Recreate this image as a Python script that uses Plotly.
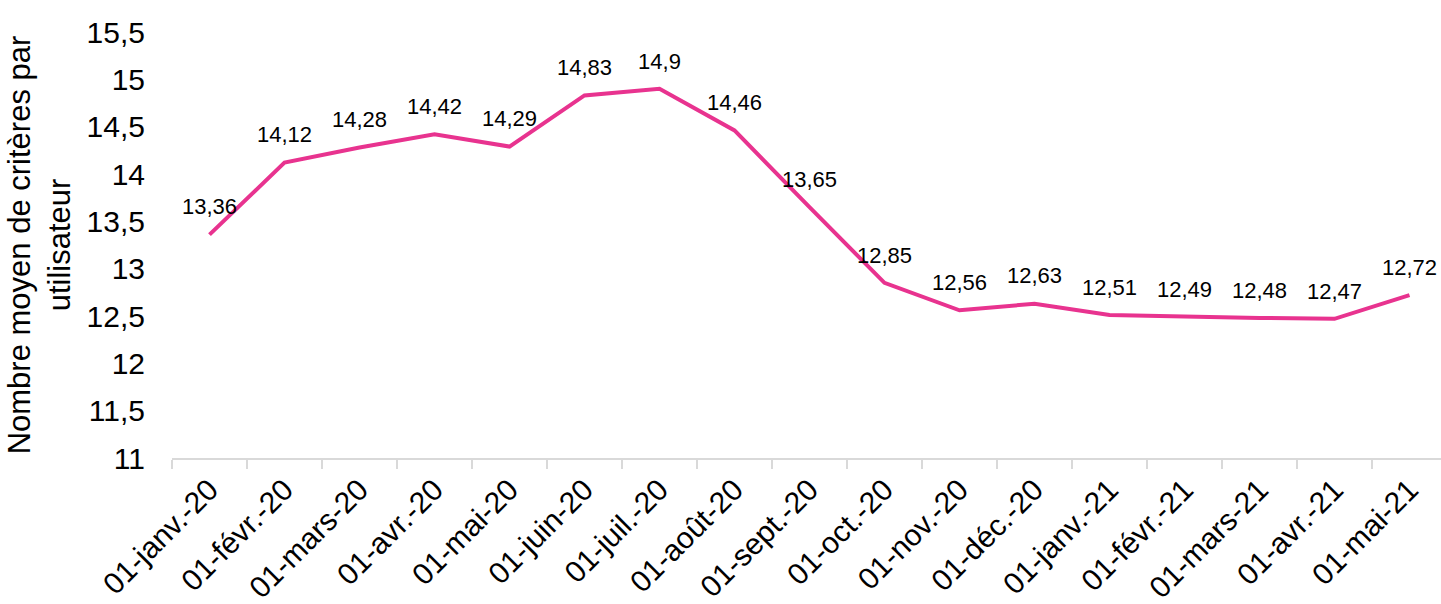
import plotly.graph_objects as go

categories = ["01-janv.-20", "01-févr.-20", "01-mars-20", "01-avr.-20", "01-mai-20",
              "01-juin-20", "01-juil.-20", "01-août-20", "01-sept.-20", "01-oct.-20",
              "01-nov.-20", "01-déc.-20", "01-janv.-21", "01-févr.-21", "01-mars-21",
              "01-avr.-21", "01-mai-21"]
values = [13.36, 14.12, 14.28, 14.42, 14.29, 14.83, 14.9, 14.46, 13.65, 12.85,
          12.56, 12.63, 12.51, 12.49, 12.48, 12.47, 12.72]
y_ticks = [11, 11.5, 12, 12.5, 13, 13.5, 14, 14.5, 15, 15.5]
y_labels = [f"{v:g}".replace(".", ",") for v in y_ticks]
labels = [f"{v:g}".replace(".", ",") for v in values]

fig = go.Figure(go.Scatter(
    x=categories, y=values, mode="lines+markers+text",
    line=dict(color="#E8338F", width=4),
    marker=dict(size=22, color="rgba(0,0,0,0)"),
    text=labels, textposition="top center",
    textfont=dict(family="Liberation Sans, Arial", size=22, color="#000000"),
    cliponaxis=False, hoverinfo="skip",
))

fig.update_layout(
    width=1441, height=604,
    margin=dict(l=172, r=0, t=32, b=146),
    paper_bgcolor="white", plot_bgcolor="white",
    showlegend=False,
    font=dict(family="Liberation Sans, Arial", color="#000000"),
    xaxis=dict(
        type="category", range=[-0.5, 16.42], automargin=False,
        tickangle=-45, tickfont=dict(size=30),
        showgrid=False, showline=True, linecolor="#D9D9D9", linewidth=2,
        ticks="outside", tickson="boundaries", ticklen=9, tickcolor="#D9D9D9", tickwidth=2,
        zeroline=False,
    ),
    yaxis=dict(
        range=[11, 15.5], tickvals=y_ticks, ticktext=y_labels, automargin=True,
        tickfont=dict(size=30), showgrid=False, showline=False, zeroline=False,
        ticks="", ticklabelstandoff=26,
        title=dict(text="Nombre moyen de critères par<br>utilisateur", font=dict(size=31), standoff=6),
    ),
)

fig.write_html("out.html", config={"displayModeBar": False},
               post_script="document.body.style.margin='0';document.body.style.overflow='hidden';")
